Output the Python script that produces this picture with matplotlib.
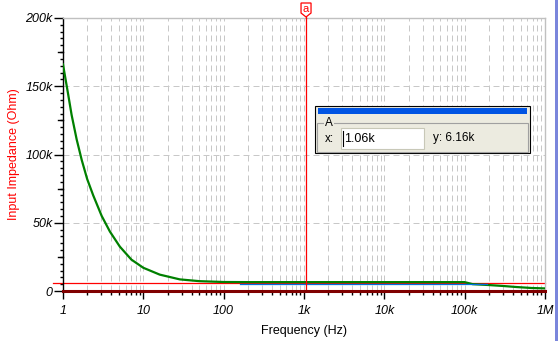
import matplotlib
matplotlib.use("Agg")
import matplotlib.pyplot as plt
import matplotlib.ticker as mticker
from matplotlib.patches import Rectangle, Polygon
from matplotlib.lines import Line2D
import numpy as np

plt.rcParams['font.family'] = ['Liberation Sans', 'DejaVu Sans']

# input impedance curve (Hz, Ohm)
freq = [1, 1.16, 1.28, 1.48, 1.71, 2.0, 2.38, 3.03, 3.84, 5.1, 7.1, 10, 16, 28.5,
        50, 100, 200, 1e3, 1e4, 1e5, 1.26e5, 1.95e5, 2.97e5, 4.45e5, 6.8e5, 1e6]
z_in = [166e3, 144e3, 129e3, 111e3, 96e3, 82e3, 70e3, 55e3, 43.5e3, 32.5e3, 23e3,
        17e3, 12e3, 8.5e3, 7.2e3, 6.6e3, 6.5e3, 6.5e3, 6.5e3, 6.5e3, 5.0e3, 4.4e3,
        3.7e3, 2.9e3, 2.2e3, 1.9e3]

# second trace, mostly hidden under the first one
freq_b = [160, 1.9e5]
z_b = [5.4e3, 5.4e3]

# cursor a
cursor_x = 1.06e3
cursor_y = 6.16e3

x_ticks = [1, 10, 100, 1e3, 1e4, 1e5, 1e6]
x_labels = ["1", "10", "100", "1k", "10k", "100k", "1M"]
y_ticks = [0, 50e3, 100e3, 150e3, 200e3]
y_labels = ["0", "50k", "100k", "150k", "200k"]

W, H = 558, 341
fig = plt.figure(figsize=(W / 100, H / 100), dpi=100)
fig.patch.set_facecolor("white")


def px(x, y):
    # pixel position from top-left -> figure fraction
    return x / W, 1 - y / H


ax = fig.add_axes([63 / W, 50 / H, (545 - 63) / W, 273 / H])
ax.set_xscale("log")
ax.set_xlim(1, 1e6)
ax.set_ylim(0, 200e3)

# grid
grid_kw = dict(color="#c8c8c8", lw=0.72, dashes=(6, 4))
for dec in range(6):
    for m in range(1, 10):
        f = m * 10 ** dec
        if f > 1:
            ax.axvline(f, zorder=0, **grid_kw)
for v in y_ticks[1:-1]:
    ax.axhline(v, zorder=0, **grid_kw)

# traces
ax.axhline(cursor_y, xmin=-0.021, xmax=1, color="#ff0000", lw=0.9, clip_on=False, zorder=2)
ax.plot(freq, z_in, color="#008000", lw=1.6, zorder=3)
ax.plot(freq_b, z_b, color="#0070e0", lw=0.9, zorder=4)
ax.axvline(cursor_x, color="#ff0000", lw=0.9, zorder=5)

# spines
for s in ("top", "right"):
    ax.spines[s].set_color("#c0c0c0")
    ax.spines[s].set_linewidth(1.0)
ax.spines["left"].set_color("black")
ax.spines["left"].set_linewidth(1.0)
ax.spines["bottom"].set_color("#800000")
ax.spines["bottom"].set_linewidth(2.2)
ax.spines["bottom"].set_zorder(6)

# ticks
ax.set_xticks(x_ticks)
ax.set_xticklabels(x_labels)
ax.xaxis.set_minor_locator(mticker.LogLocator(base=10, subs=np.arange(2, 10)))
ax.xaxis.set_minor_formatter(mticker.NullFormatter())
ax.set_yticks(y_ticks)
ax.set_yticklabels(y_labels)
ax.yaxis.set_minor_locator(mticker.MultipleLocator(5e3))
ax.tick_params(axis="x", which="major", length=5.5, width=1, color="black", pad=4.5, labelsize=9)
ax.tick_params(axis="x", which="minor", length=3, width=1, color="black")
ax.tick_params(axis="y", which="major", length=6.5, width=1, color="black", pad=1, labelsize=9)
ax.tick_params(axis="y", which="minor", length=2, width=1, color="black")
for lbl in ax.get_xticklabels() + ax.get_yticklabels():
    lbl.set_style("italic")

# medium ticks every 25k
for v in [25e3, 75e3, 125e3, 175e3]:
    ax.plot([-0.0105, 0], [v, v], color="black", lw=1, clip_on=False,
            transform=ax.get_yaxis_transform())

ax.set_xlabel("Frequency (Hz)", fontsize=9, labelpad=6)
ax.set_ylabel("Input Impedance (Ohm)", fontsize=9, color="#ff0000", labelpad=4)

# cursor flag
cx = ax.transData.transform((cursor_x, 0))[0]
flag = [(cx - 5, 3), (cx + 5, 3), (cx + 5, 13), (cx, 17), (cx - 5, 13)]
fig.add_artist(Polygon([px(x, y) for x, y in flag], closed=True, facecolor="white",
                       edgecolor="#ff0000", lw=0.9, transform=fig.transFigure, zorder=10))
fig.text(*px(cx, 8.5), "a", color="#ff0000", fontsize=8, ha="center", va="center", zorder=11)
fig.add_artist(Line2D([cx / W, cx / W], [1 - 17 / H, 1 - 18 / H], color="#ff0000", lw=0.9,
                      transform=fig.transFigure))

# cursor readout window
def rect(x0, y0, x1, y1, **kw):
    fig.add_artist(Rectangle(px(x0, y1), (x1 - x0) / W, (y1 - y0) / H,
                             transform=fig.transFigure, zorder=12, **kw))

rect(315, 106, 530, 153, facecolor="#ecebe0", edgecolor="black", lw=0.8)
rect(318, 108.5, 527, 114, facecolor="#0054e3", edgecolor="none")
rect(316.5, 123, 527.5, 151.5, facecolor="none", edgecolor="#a0a0a0", lw=0.8)
rect(324, 118, 334, 127, facecolor="#ecebe0", edgecolor="none")
fig.text(*px(329, 122.5), "A", fontsize=8.5, ha="center", va="center", zorder=13)
fig.text(*px(325, 138.5), "x:", fontsize=8.5, ha="left", va="center", zorder=13)
rect(341, 128, 424, 149, facecolor="white", edgecolor="#c8c8b8", lw=0.8)
fig.add_artist(Line2D([342.5 / W, 342.5 / W], [1 - 131 / H, 1 - 146 / H], color="black", lw=0.8,
                      transform=fig.transFigure, zorder=13))
fig.text(*px(344, 138.5), "1.06k", fontsize=9, ha="left", va="center", zorder=13)
fig.text(*px(433, 138.5), "y: 6.16k", fontsize=8.5, ha="left", va="center", zorder=13)

# window edge on the right
rect(555, 0, 558, 341, facecolor="#7a86dc", edgecolor="none")

fig.savefig("out.png", dpi=100, facecolor="white")
